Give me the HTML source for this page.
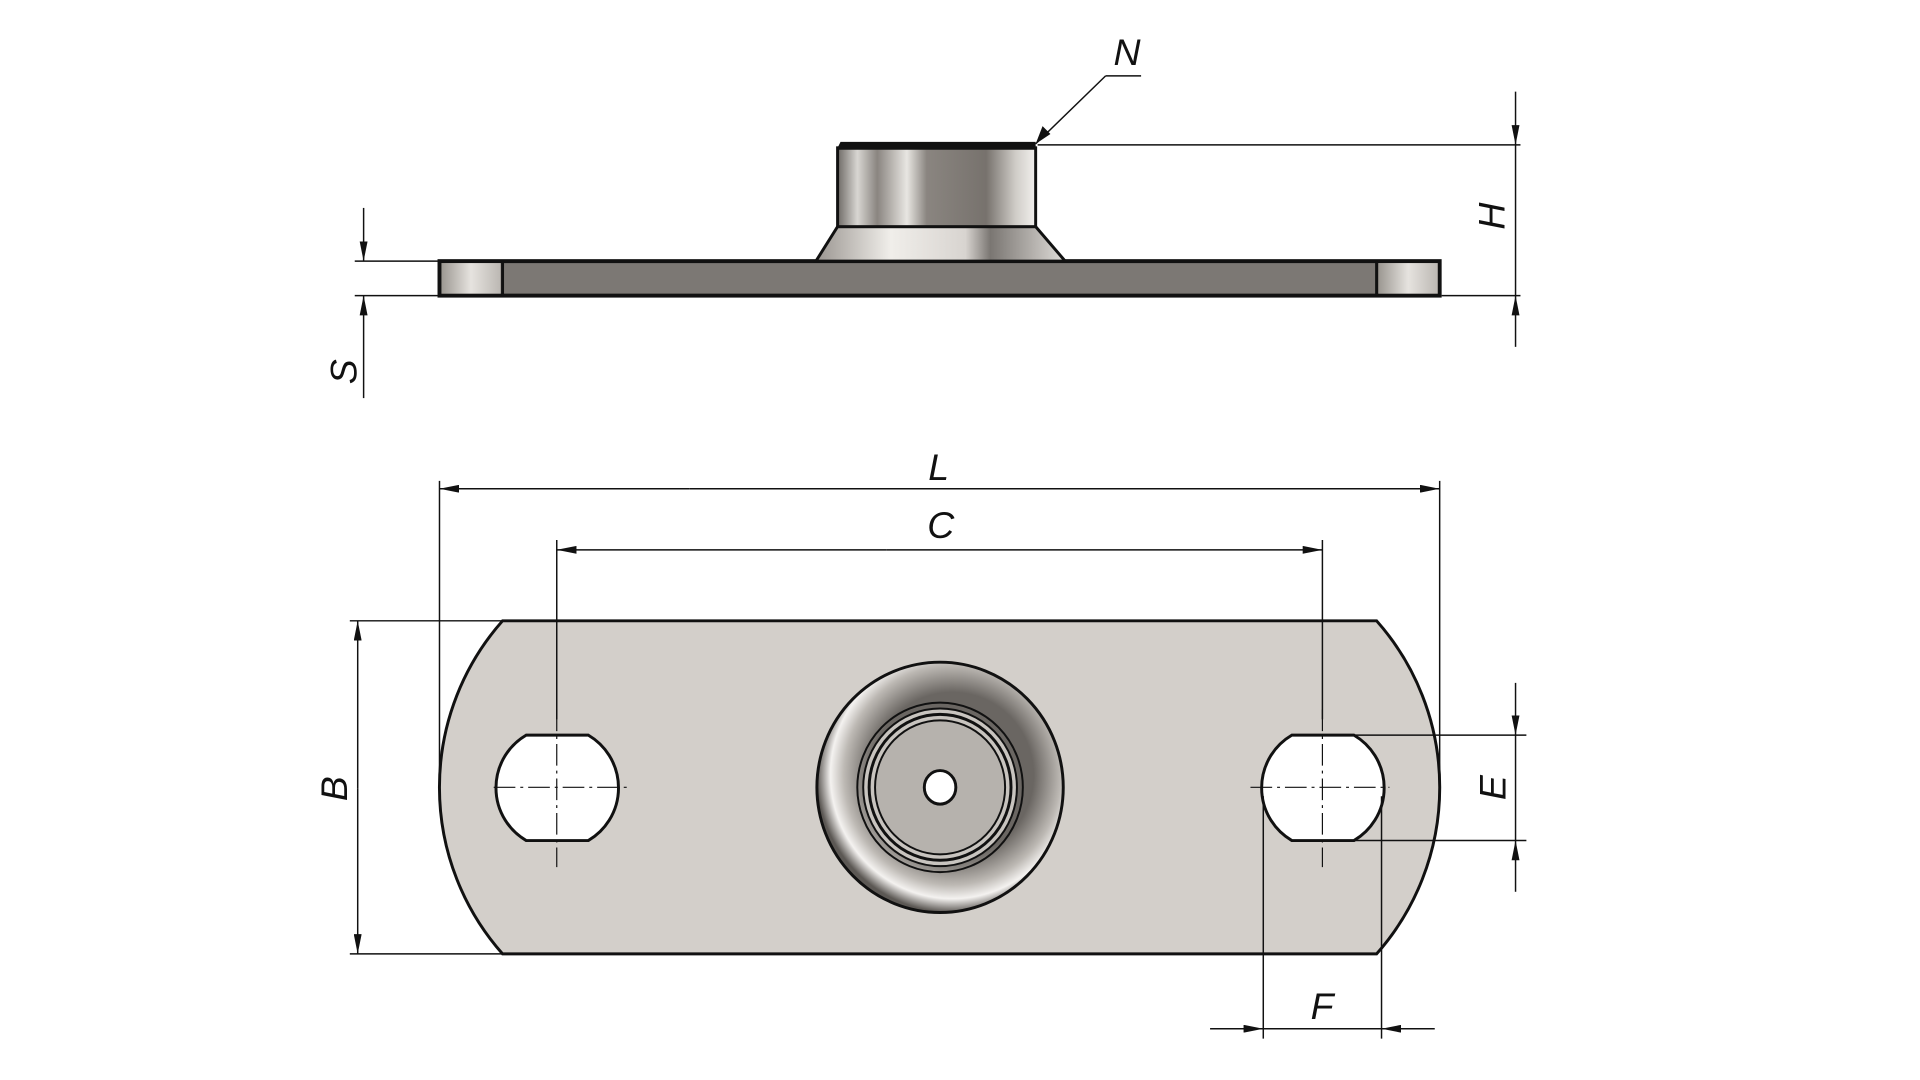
<!DOCTYPE html>
<html><head><meta charset="utf-8"><style>
html,body{margin:0;padding:0;background:#fff}
svg{display:block}
text{font-family:"Liberation Sans",sans-serif;font-style:italic;font-size:38px;fill:#111}
</style></head><body>
<svg width="1920" height="1080" viewBox="0 0 1920 1080" xmlns="http://www.w3.org/2000/svg">
<defs>
<linearGradient id="cyl" x1="0" x2="1" y1="0" y2="0">
<stop offset="0" stop-color="#6e6a66"/><stop offset="0.1" stop-color="#d8d6d2"/><stop offset="0.2" stop-color="#8a8580"/><stop offset="0.35" stop-color="#e8e6e2"/><stop offset="0.45" stop-color="#8a8580"/><stop offset="0.75" stop-color="#77726d"/><stop offset="0.9" stop-color="#d0cdc8"/><stop offset="1" stop-color="#f2f0ee"/>
</linearGradient>
<linearGradient id="cone" x1="0" x2="1">
<stop offset="0" stop-color="#9a9590"/><stop offset="0.3" stop-color="#f0eeea"/><stop offset="0.6" stop-color="#d8d4d0"/><stop offset="0.7" stop-color="#7a7672"/><stop offset="1" stop-color="#e0ddd9"/>
</linearGradient>
<linearGradient id="hole" x1="0" x2="1">
<stop offset="0" stop-color="#9c9892"/><stop offset="0.5" stop-color="#e6e3df"/><stop offset="1" stop-color="#bcb8b3"/>
</linearGradient>
<radialGradient id="ring" cx="0.55" cy="0.45" r="0.55">
<stop offset="0.6" stop-color="#6a6662"/><stop offset="0.8" stop-color="#bdb9b4"/><stop offset="0.9" stop-color="#f4f2f0"/><stop offset="1" stop-color="#5c5854"/>
</radialGradient>
<marker id="ar" viewBox="0 0 20 8" refX="20" refY="4" markerWidth="20" markerHeight="8" markerUnits="userSpaceOnUse" orient="auto"><path d="M0,0 L20,4 L0,8 z" fill="#111"/></marker>
</defs>
<g transform="scale(0.9854)">
<!-- TOP VIEW -->
<rect x="446" y="265" width="1015" height="35" fill="#7c7874" stroke="#111" stroke-width="4"/>
<rect x="448" y="267" width="60" height="31" fill="url(#hole)"/>
<line x1="510" y1="265" x2="510" y2="300" stroke="#111" stroke-width="3"/>
<rect x="1399" y="267" width="60" height="31" fill="url(#hole)"/>
<line x1="1397" y1="265" x2="1397" y2="300" stroke="#111" stroke-width="3"/>
<path d="M828,265 L850,230 L1051,230 L1081,265 Z" fill="url(#cone)" stroke="#111" stroke-width="3"/>
<rect x="850" y="150" width="201" height="80" fill="url(#cyl)" stroke="#111" stroke-width="3"/>
<path d="M850,150 L853,144 L1051,144 L1051,152 L850,152 Z" fill="#111"/>
<line x1="1051" y1="146" x2="1122" y2="77" stroke="#111" stroke-width="1.5"/>
<path d="M1051,146 L1058,128 L1066,136 Z" fill="#111"/>
<line x1="1122" y1="77" x2="1158" y2="77" stroke="#111" stroke-width="1.5"/>
<text x="1130" y="66">N</text>
<line x1="1053" y1="147" x2="1543" y2="147" stroke="#111" stroke-width="1.5"/>
<line x1="1463" y1="300" x2="1543" y2="300" stroke="#111" stroke-width="1.5"/>
<line x1="1538" y1="93" x2="1538" y2="147" stroke="#111" stroke-width="1.5" marker-end="url(#ar)"/>
<line x1="1538" y1="352" x2="1538" y2="300" stroke="#111" stroke-width="1.5" marker-end="url(#ar)"/>
<line x1="1538" y1="147" x2="1538" y2="300" stroke="#111" stroke-width="1.5"/>
<text x="0" y="0" transform="translate(1527,233) rotate(-90)">H</text>
<line x1="360" y1="265" x2="444" y2="265" stroke="#111" stroke-width="1.5"/>
<line x1="360" y1="300" x2="444" y2="300" stroke="#111" stroke-width="1.5"/>
<line x1="369" y1="211" x2="369" y2="265" stroke="#111" stroke-width="1.5" marker-end="url(#ar)"/>
<line x1="369" y1="404" x2="369" y2="300" stroke="#111" stroke-width="1.5" marker-end="url(#ar)"/>
<text x="0" y="0" transform="translate(362,390) rotate(-90)">S</text>

<!-- PLAN VIEW -->
<path d="M510,630 L1397,630 A255,255 0 0 1 1397,968 L510,968 A255,255 0 0 1 510,630 Z" fill="#d3cfca" stroke="#111" stroke-width="3"/>
<path d="M534,746 L597,746 A62,62 0 0 1 597,853 L534,853 A62,62 0 0 1 534,746 Z" fill="#fff" stroke="#111" stroke-width="3"/>
<path d="M1311,746 L1374,746 A62,62 0 0 1 1374,853 L1311,853 A62,62 0 0 1 1311,746 Z" fill="#fff" stroke="#111" stroke-width="3"/>
<ellipse cx="954" cy="799" rx="125" ry="127" fill="url(#ring)" stroke="#111" stroke-width="3"/>
<ellipse cx="954" cy="799" rx="84" ry="86" fill="none" stroke="#111" stroke-width="2"/>
<ellipse cx="954" cy="799" rx="78" ry="80" fill="#c8c4bf" stroke="#111" stroke-width="2"/>
<ellipse cx="954" cy="799" rx="72" ry="74" fill="none" stroke="#111" stroke-width="3"/>
<ellipse cx="954" cy="799" rx="66" ry="68" fill="#b6b2ad" stroke="#111" stroke-width="2"/>
<ellipse cx="954" cy="799" rx="16" ry="17" fill="#fff" stroke="#111" stroke-width="3"/>
<g stroke="#111" stroke-width="1.2" stroke-dasharray="22,5,3,5">
<line x1="501" y1="799" x2="640" y2="799"/>
<line x1="1269" y1="799" x2="1410" y2="799"/>
<line x1="565" y1="720" x2="565" y2="880"/>
<line x1="1342" y1="720" x2="1342" y2="880"/>
</g>
<g stroke="#111" stroke-width="1.5">
<line x1="446" y1="488" x2="446" y2="799"/>
<line x1="1461" y1="488" x2="1461" y2="799"/>
<line x1="565" y1="548" x2="565" y2="730"/>
<line x1="1342" y1="548" x2="1342" y2="730"/>
<line x1="355" y1="630" x2="510" y2="630"/>
<line x1="355" y1="968" x2="510" y2="968"/>
<line x1="1374" y1="746" x2="1549" y2="746"/>
<line x1="1374" y1="853" x2="1549" y2="853"/>
<line x1="1282" y1="808" x2="1282" y2="1054"/>
<line x1="1402" y1="808" x2="1402" y2="1054"/>
</g>
<line x1="700" y1="496" x2="446" y2="496" stroke="#111" stroke-width="1.5" marker-end="url(#ar)"/>
<line x1="700" y1="496" x2="1461" y2="496" stroke="#111" stroke-width="1.5" marker-end="url(#ar)"/>
<text x="942" y="487">L</text>
<line x1="900" y1="558" x2="565" y2="558" stroke="#111" stroke-width="1.5" marker-end="url(#ar)"/>
<line x1="900" y1="558" x2="1342" y2="558" stroke="#111" stroke-width="1.5" marker-end="url(#ar)"/>
<text x="941" y="546">C</text>
<line x1="363" y1="800" x2="363" y2="630" stroke="#111" stroke-width="1.5" marker-end="url(#ar)"/>
<line x1="363" y1="800" x2="363" y2="968" stroke="#111" stroke-width="1.5" marker-end="url(#ar)"/>
<text x="0" y="0" transform="translate(352,813) rotate(-90)">B</text>
<line x1="1538" y1="693" x2="1538" y2="746" stroke="#111" stroke-width="1.5" marker-end="url(#ar)"/>
<line x1="1538" y1="905" x2="1538" y2="853" stroke="#111" stroke-width="1.5" marker-end="url(#ar)"/>
<line x1="1538" y1="746" x2="1538" y2="853" stroke="#111" stroke-width="1.5"/>
<text x="0" y="0" transform="translate(1528,812) rotate(-90)">E</text>
<line x1="1228" y1="1044" x2="1282" y2="1044" stroke="#111" stroke-width="1.5" marker-end="url(#ar)"/>
<line x1="1456" y1="1044" x2="1402" y2="1044" stroke="#111" stroke-width="1.5" marker-end="url(#ar)"/>
<line x1="1282" y1="1044" x2="1402" y2="1044" stroke="#111" stroke-width="1.5"/>
<text x="1330" y="1034">F</text>
</g>
</svg>
</body></html>
